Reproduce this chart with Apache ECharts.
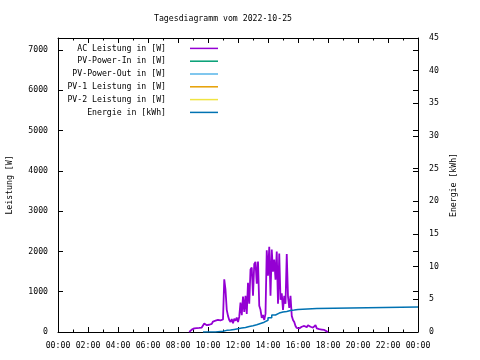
<!DOCTYPE html>
<html><head><meta charset="utf-8">
<script src="https://cdn.jsdelivr.net/npm/echarts@6/dist/echarts.min.js"></script>
<style>html,body{margin:0;padding:0;background:#fff}#c{width:480px;height:360px}</style>
</head><body><div id="c"></div>
<script>
const titleText = "Tagesdiagramm vom 2022-10-25";
const seriesNames = ["AC Leistung in [W]", "PV-Power-In in [W]", "PV-Power-Out in [W]", "PV-1 Leistung in [W]", "PV-2 Leistung in [W]", "Energie in [kWh]"];
const seriesColors = ["#9400d3", "#009e73", "#56b4e9", "#e69f00", "#f0e442", "#0072b2"];
const xTickHours = [0, 2, 4, 6, 8, 10, 12, 14, 16, 18, 20, 22, 24];

const acTimes = ["08:45","08:50","08:55","09:00","09:05","09:10","09:15","09:20","09:25","09:30","09:35","09:40","09:45","09:50","09:55",
"10:00","10:05","10:10","10:15","10:20","10:25","10:30","10:35","10:40","10:45","10:50","10:55",
"11:00","11:05","11:10","11:15","11:20","11:25","11:30","11:35","11:40","11:45","11:50","11:55",
"12:00","12:05","12:10","12:15","12:20","12:25","12:30","12:35","12:40","12:45","12:50","12:55",
"13:00","13:05","13:10","13:15","13:20","13:25","13:30","13:35","13:40","13:45","13:50","13:55",
"14:00","14:05","14:10","14:15","14:20","14:25","14:30","14:35","14:40","14:45","14:50","14:55",
"15:00","15:05","15:10","15:15","15:20","15:25","15:30","15:35","15:40","15:45","15:50","15:55",
"16:00","16:05","16:10","16:15","16:20","16:25","16:30","16:35","16:40","16:45","16:50","16:55",
"17:00","17:05","17:10","17:15","17:20","17:25","17:30","17:35","17:40","17:45","17:50","17:55","18:00"];
const acValues = [0,40,60,70,90,85,95,90,100,95,110,100,210,230,170,
160,180,150,200,260,240,280,260,300,270,290,280,
310,1310,1050,550,400,300,250,320,220,330,280,360,
250,380,730,420,880,500,900,450,1220,700,1550,1600,
900,1690,1740,1200,1750,650,550,350,420,300,450,2030,
1400,2115,900,2050,1500,1800,1300,2000,700,1950,800,960,
550,900,700,1935,875,600,900,400,300,250,150,100,
70,90,60,130,170,150,160,120,170,150,130,160,
110,140,170,90,80,70,75,60,40,50,20,15,0];

const pvInValues = [];
const pvOutValues = [];
const pv1Values = [];
const pv2Values = [];

const energyTimes = ["09:40","10:00","10:30","11:00","11:15","11:30","11:45","12:00","12:15","12:30","12:45","13:00","13:15","13:30","13:45","14:00","14:15","14:30","14:45","15:00","15:15","15:30","15:45","16:00","17:15","24:00"];
const energyValues = [0,0,0.1,0.25,0.3,0.4,0.5,0.6,0.7,0.85,0.95,1.1,1.3,1.5,1.8,2.2,2.6,2.9,3.05,3.15,3.3,3.35,3.45,3.6,3.82,3.82];

function toH(t){const p=t.split(":");return +p[0]+(+p[1])/60;}
function pair(times, vals){return times.map((t,i)=>[toH(t), vals[i]]);}
function pad(n){return (n<10?"0":"")+n;}

const FONT = "DejaVu Sans Mono";
const FS = 8.2;
const txt = {fontFamily: FONT, fontSize: FS, color: "#000"};
const blackLine = {show: true, onZero: false, lineStyle: {color: "#000", width: 1}};
const noLine = {show: false, onZero: false};
const inTick = {show: true, inside: true, length: 5, lineStyle: {color: "#000", width: 1}};
const minTick = {show: true, splitNumber: 2, length: 2.5, lineStyle: {color: "#000", width: 1}};

const chart = echarts.init(document.getElementById("c"), null, {renderer: "canvas"});
const legendData = seriesNames.map(n => ({name: n}));
const series = [
  {name: seriesNames[0], data: pair(acTimes, acValues), yAxisIndex: 0},
  {name: seriesNames[1], data: pvInValues, yAxisIndex: 0},
  {name: seriesNames[2], data: pvOutValues, yAxisIndex: 0},
  {name: seriesNames[3], data: pv1Values, yAxisIndex: 0},
  {name: seriesNames[4], data: pv2Values, yAxisIndex: 0},
  {name: seriesNames[5], data: pair(energyTimes, energyValues), yAxisIndex: 1, step: "end"}
].map((s, i) => Object.assign({
  type: "line", xAxisIndex: 0, symbol: "none", showSymbol: false,
  color: seriesColors[i],
  lineStyle: {width: i === 0 ? 1.8 : 1.5, color: seriesColors[i]},
  animation: false
}, s));

chart.setOption({
  animation: false,
  backgroundColor: "#fff",
  title: {text: titleText, left: 154, top: 15, padding: 0, textStyle: {fontFamily: FONT, fontSize: FS, fontWeight: "normal", color: "#000"}},
  legend: {
    data: legendData, orient: "vertical", align: "right", right: 262, top: 42, padding: 0,
    itemGap: 0, itemWidth: 28, itemHeight: 1.5, icon: "rect",
    textStyle: {fontFamily: FONT, fontSize: FS, color: "#000", lineHeight: 12.8, padding: [0, 19, 0, 0]}
  },
  grid: {left: 58, right: 62, top: 38, bottom: 28, containLabel: false, outerBoundsMode: "none"},
  xAxis: [
    {type: "value", position: "bottom", min: 0, max: 24, interval: 2,
     axisLine: blackLine, splitLine: {show: false}, axisTick: inTick, minorTick: minTick,
     axisLabel: Object.assign({margin: 10, formatter: v => xTickHours.indexOf(v) >= 0 ? pad(v % 24) + ":00" : ""}, txt)},
    {type: "value", position: "top", min: 0, max: 24, interval: 2,
     axisLine: blackLine, splitLine: {show: false}, axisTick: inTick, minorTick: minTick,
     axisLabel: {show: false}}
  ],
  yAxis: [
    {type: "value", position: "left", min: 0, max: 7300, interval: 1000,
     name: "Leistung [W]", nameLocation: "middle", nameGap: 44, nameTextStyle: txt,
     axisLine: blackLine, splitLine: {show: false}, axisTick: inTick,
     axisLabel: Object.assign({margin: 10, formatter: v => v % 1000 === 0 ? String(v) : ""}, txt)},
    {type: "value", position: "right", min: 0, max: 45, interval: 5,
     name: "Energie [kWh]", nameLocation: "middle", nameGap: 31, nameTextStyle: txt,
     axisLine: blackLine, splitLine: {show: false}, axisTick: inTick,
     axisLabel: Object.assign({margin: 11}, txt)},
    {type: "value", position: "right", offset: 0, min: 0, max: 7300, interval: 1000,
     axisLine: noLine, splitLine: {show: false},
     axisTick: {show: true, inside: true, length: 5, lineStyle: {color: "#000", width: 1}, customValues: [0,1000,2000,3000,4000,5000,6000,7000]},
     axisLabel: {show: false}}
  ],
  series: series
});
</script></body></html>
